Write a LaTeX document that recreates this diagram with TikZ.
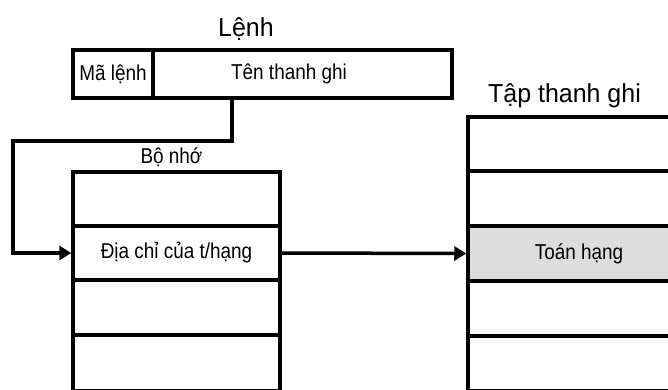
\documentclass[tikz,border=0pt]{standalone}
\usepackage{fontspec}
\setmainfont{Liberation Sans}
\newfontfamily\boxfont[FakeStretch=0.88]{Liberation Sans}
\newfontfamily\headfont[FakeStretch=0.96]{Liberation Sans}
\usetikzlibrary{arrows.meta}
\definecolor{cellgray}{RGB}{221,221,221}
\begin{document}
\begin{tikzpicture}[x=1pt,y=-1pt,
  cell/.style={draw=black,line width=3.5pt,rectangle,inner sep=0pt,
    font=\boxfont\fontsize{21.5}{25}\selectfont},
  title/.style={inner sep=0pt,anchor=base,font=\headfont\fontsize{26}{30}\selectfont},
  small/.style={inner sep=0pt,anchor=base,font=\boxfont\fontsize{21.5}{25}\selectfont},
  conn/.style={draw=black,line width=3.5pt,-{Triangle[length=12pt,width=14pt]}}]
\useasboundingbox (0,0) rectangle (668,389);
\clip (0,0) rectangle (668,389);
\fill[white] (0,0) rectangle (668,389);

% instruction
\node[title] (lenh) at (246,36) {Lệnh};
\node[cell,minimum width=80pt,minimum height=48pt] (ma) at (113,74) {Mã lệnh};
\node[cell,minimum width=299pt,minimum height=48pt] (ten) at (302.5,74) {\hspace*{-27pt}Tên thanh ghi};

% memory
\node[small] (bonho) at (171.5,163) {Bộ nhớ};
\node[cell,minimum width=207pt,minimum height=54pt] (m1) at (176.5,199) {};
\node[cell,minimum width=207pt,minimum height=54pt] (m2) at (176.5,253) {Địa chỉ của t/hạng};
\node[cell,minimum width=207pt,minimum height=55pt] (m3) at (176.5,307.5) {};
\node[cell,minimum width=207pt,minimum height=56pt] (m4) at (176.5,363) {};

% register file
\node[title] (tap) at (564.5,102) {Tập thanh ghi};
\node[cell,minimum width=222pt,minimum height=54pt] (r1) at (579,144) {};
\node[cell,minimum width=222pt,minimum height=55pt] (r2) at (579,198.5) {};
\node[cell,fill=cellgray,minimum width=222pt,minimum height=55pt] (r3) at (579,253.5) {Toán hạng};
\node[cell,minimum width=222pt,minimum height=55pt] (r4) at (579,308.5) {};
\node[cell,minimum width=222pt,minimum height=55pt] (r5) at (579,363.5) {};

% connectors
\coordinate (k1) at (232,141);
\coordinate (k2) at (13,141);
\draw[conn,line join=miter] (k1 |- ten.south) -- (k1) -- (k2) |- (m2.west);
\draw[conn] (m2.east) -- (r3.west);
\end{tikzpicture}
\end{document}
